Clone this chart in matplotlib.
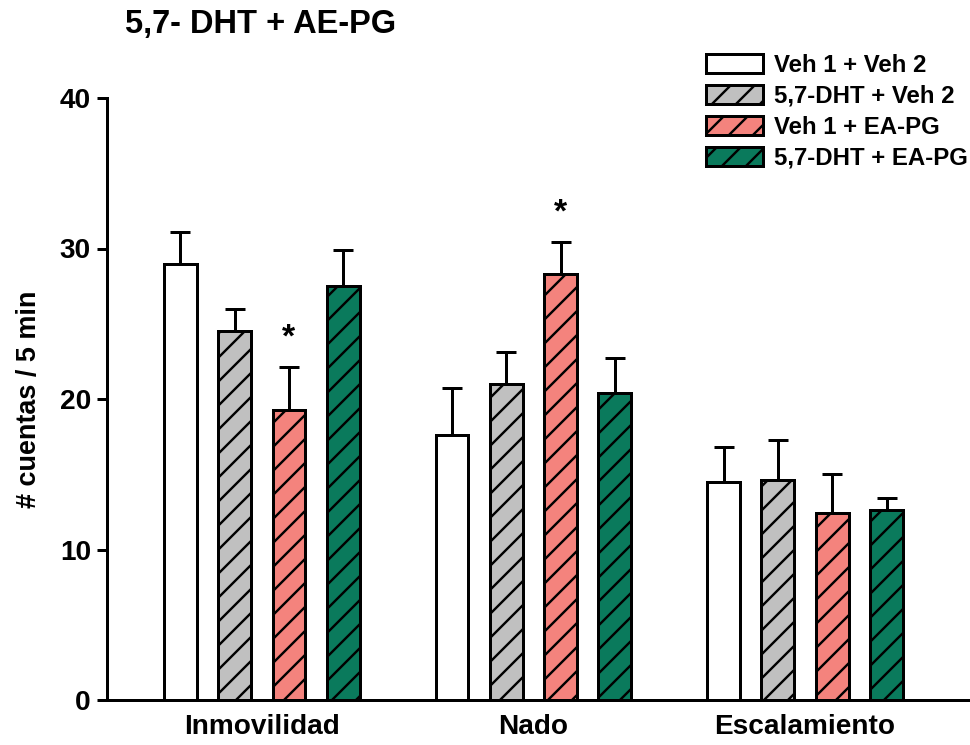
import numpy as np
import matplotlib.pyplot as plt

plt.rcParams['font.family'] = ['Liberation Sans', 'DejaVu Sans']
plt.rcParams['font.weight'] = 'bold'
plt.rcParams['hatch.linewidth'] = 1.2

# Datos
categorias = ["Inmovilidad", "Nado", "Escalamiento"]
grupos = ["Veh 1 + Veh 2", "5,7-DHT + Veh 2", "Veh 1 + EA-PG", "5,7-DHT + EA-PG"]
medias = [
    [29.0, 17.6, 14.5],
    [24.5, 21.0, 14.6],
    [19.3, 28.3, 12.4],
    [27.5, 20.4, 12.6],
]
errores = [
    [2.1, 3.1, 2.3],
    [1.5, 2.1, 2.7],
    [2.8, 2.1, 2.6],
    [2.4, 2.3, 0.8],
]
colores = ["white", "#c0c0c0", "#f4837d", "#0a7a5c"]
tramas = ["", "//", "//", "//"]
asteriscos = [(2, 0), (2, 1)]  # (grupo, categoria)

fig = plt.figure(figsize=(970 / 144, 745 / 144), dpi=144)
ax = fig.add_axes([107 / 970, 1 - 700 / 745, 861 / 970, 602 / 745])

x = np.arange(len(categorias))
ancho = 0.121
offsets = [-0.3, -0.1, 0.1, 0.3]

for i in range(len(grupos)):
    ax.bar(
        x + offsets[i],
        medias[i],
        ancho,
        color=colores[i],
        edgecolor="black",
        linewidth=1.5,
        hatch=tramas[i],
        label=grupos[i],
        zorder=2
    )
    ax.errorbar(
        x + offsets[i],
        medias[i],
        yerr=[np.zeros(3), errores[i]],
        fmt="none",
        ecolor="black",
        elinewidth=1.5,
        capsize=5,
        capthick=1.5,
        zorder=1
    )

for g, c in asteriscos:
    ax.text(
        x[c] + offsets[g],
        medias[g][c] + errores[g][c] + 0.9,
        "*",
        ha="center",
        va="bottom",
        fontsize=17,
        fontweight="bold"
    )

ax.set_xlim(-0.57, 2.6)
ax.set_ylim(0, 40)
ax.set_yticks([0, 10, 20, 30, 40])
ax.set_xticks(x)
ax.set_xticklabels(categorias, fontsize=14, fontweight="bold")
ax.tick_params(axis="x", length=0, pad=7)
ax.tick_params(axis="y", direction="out", length=5, width=1.5, labelsize=14, pad=3)

ax.spines["top"].set_visible(False)
ax.spines["right"].set_visible(False)
ax.spines["left"].set_linewidth(1.5)
ax.spines["bottom"].set_linewidth(1.5)

ax.set_ylabel("# cuentas / 5 min", fontsize=13.5, fontweight="bold", labelpad=9)

fig.text(125 / 970, 1 - 25 / 745, "5,7- DHT + AE-PG", fontsize=16.3,
         fontweight="bold", va="center", ha="left")

ax.legend(
    loc="upper right",
    bbox_to_anchor=(968 / 970, 1 - 54 / 745),
    bbox_transform=fig.transFigure,
    frameon=False,
    fontsize=12,
    handlelength=2.4,
    handleheight=0.85,
    handletextpad=0.45,
    labelspacing=0.33,
    borderpad=0,
    borderaxespad=0
)

fig.savefig("out.png", dpi=144)
